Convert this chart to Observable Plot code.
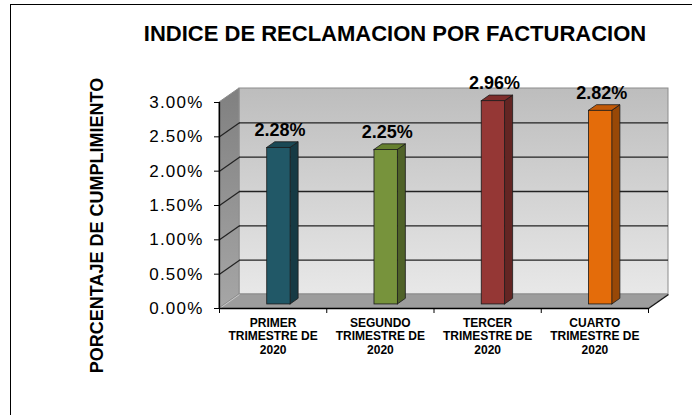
<!DOCTYPE html>
<html>
<head>
<meta charset="utf-8">
<script src="https://cdn.jsdelivr.net/npm/d3@7"></script>
<script src="https://cdn.jsdelivr.net/npm/@observablehq/plot@0.6"></script>
<style>
  html, body { margin: 0; padding: 0; overflow: hidden; background: #fff; font-family: "Liberation Sans", Arial, sans-serif; }
  #wrap { position: relative; width: 692px; height: 415px; overflow: hidden; background: #fff; }
  #border { position: absolute; left: 10px; top: 4px; width: 800px; height: 500px; border-left: 1px solid #000; border-top: 1px solid #000; }
  #title { position: absolute; left: 98px; width: 594px; top: 23px; text-align: center; font-size: 22px; line-height: 22px; font-weight: bold; color: #000; }
  #chart { position: absolute; left: 0; top: 0; }
</style>
</head>
<body>
<div id="wrap">
  <div id="border"></div>
  <div id="chart"></div>
  <div id="title">INDICE DE RECLAMACION POR FACTURACION</div>
</div>
<script>
// ---- data ----
const categorias = ["PRIMER\nTRIMESTRE DE\n2020", "SEGUNDO\nTRIMESTRE DE\n2020", "TERCER\nTRIMESTRE DE\n2020", "CUARTO\nTRIMESTRE DE\n2020"];
const valores = [2.28, 2.25, 2.96, 2.82];
const etiquetas = ["2.28%", "2.25%", "2.96%", "2.82%"];
const ticksY = [0, 0.5, 1, 1.5, 2, 2.5, 3];
const ticksYLabels = ["0.00%", "0.50%", "1.00%", "1.50%", "2.00%", "2.50%", "3.00%"];
const tituloY = "PORCENTAJE DE CUMPLIMIENTO";

// ---- styles ----
const colorFrente = ["#215867", "#77933c", "#953735", "#e46c0a"];
const colorLado   = ["#163a44", "#4f6228", "#632523", "#984807"];
const colorTope   = ["#1b4955", "#66802f", "#7e2d2b", "#c25a08"];

// 3D geometry in scale units
const DX = 20 / 107.25;   // depth along x (category units)
const DY = 14 / 68.67;    // depth along y (percent units)
const F0 = 0.29, F1 = 0.69; // bar front/back depth fractions
const W = 0.218;          // bar width (category units)
const N = categorias.length;
const YMAX = 3;

const bars = valores.map((v, i) => ({i, v, c: i + 0.5}));
const sidePts = bars.flatMap(d => [
  {i: d.i, x: d.c + W / 2 + F0 * DX, y1: F0 * DY, y2: d.v + F0 * DY},
  {i: d.i, x: d.c + W / 2 + F1 * DX, y1: F1 * DY, y2: d.v + F1 * DY}
]);
const topPts = bars.flatMap(d => [
  {i: d.i, y: d.v + F0 * DY, x1: d.c - W / 2 + F0 * DX, x2: d.c + W / 2 + F0 * DX},
  {i: d.i, y: d.v + F1 * DY, x1: d.c - W / 2 + F1 * DX, x2: d.c + W / 2 + F1 * DX}
]);
const gridInner = ticksY.filter(t => t > 0 && t < YMAX);

function defs() {
  const ns = "http://www.w3.org/2000/svg";
  const d = document.createElementNS(ns, "defs");
  const mk = (id, a, b) => {
    const g = document.createElementNS(ns, "linearGradient");
    g.setAttribute("id", id);
    g.setAttribute("x1", "0"); g.setAttribute("y1", "0");
    g.setAttribute("x2", "0"); g.setAttribute("y2", "1");
    [[0, a], [1, b]].forEach(([o, c]) => {
      const s = document.createElementNS(ns, "stop");
      s.setAttribute("offset", o);
      s.setAttribute("stop-color", c);
      g.appendChild(s);
    });
    d.appendChild(g);
  };
  mk("gBack", "#bdbdbd", "#e8e8e8");
  mk("gLeft", "#808080", "#a6a6a6");
  return d;
}

const chart = Plot.plot({
  width: 692,
  height: 415,
  marginLeft: 219,
  marginRight: 44,
  marginTop: 102,
  marginBottom: 107,
  style: {fontFamily: "'Liberation Sans', Arial, sans-serif", color: "#000", background: "transparent"},
  x: {type: "linear", domain: [0, N], axis: null},
  y: {type: "linear", domain: [0, YMAX], axis: null},
  color: {type: "identity"},
  marks: [
    defs,
    // back wall
    Plot.rect([0], {x1: DX, x2: N + DX, y1: DY, y2: YMAX + DY, fill: "url(#gBack)", stroke: "#8c8c8c", strokeWidth: 1}),
    // left wall
    Plot.areaY([{x: 0, y1: 0, y2: YMAX}, {x: DX, y1: DY, y2: YMAX + DY}], {x: "x", y1: "y1", y2: "y2", fill: "url(#gLeft)", stroke: "#8c8c8c", strokeWidth: 1}),
    // floor
    Plot.areaX([{y: 0, x1: 0, x2: N}, {y: DY, x1: DX, x2: N + DX}], {y: "y", x1: "x1", x2: "x2", fill: "#9d9d9d", stroke: "#8c8c8c", strokeWidth: 1}),
    // gridlines on back wall and left wall
    Plot.ruleY(gridInner, {y: d => d + DY, x1: DX, x2: N + DX, stroke: "#222", strokeWidth: 1.4}),
    Plot.link(gridInner, {x1: 0, y1: d => d, x2: DX, y2: d => d + DY, stroke: "#222", strokeWidth: 1.2}),
    Plot.link([0], {x1: 0, y1: 0, x2: DX, y2: DY, stroke: "#c8c8c8", strokeWidth: 1}),
    // floor right edge and front edge
    Plot.link([0], {x1: N, y1: 0, x2: N + DX, y2: DY, stroke: "#111", strokeWidth: 1.2}),
    Plot.ruleY([0], {x1: 0, x2: N, stroke: "#000", strokeWidth: 1.3}),
    Plot.ruleX([0], {y1: 0, y2: YMAX, stroke: "#000", strokeWidth: 1.3}),
    // bars
    Plot.areaY(sidePts, {x: "x", y1: "y1", y2: "y2", z: "i", fill: d => colorLado[d.i], stroke: "#1a1a1a", strokeWidth: 0.8}),
    Plot.areaX(topPts, {y: "y", x1: "x1", x2: "x2", z: "i", fill: d => colorTope[d.i], stroke: "#1a1a1a", strokeWidth: 0.8}),
    Plot.rect(bars, {x1: d => d.c - W / 2 + F0 * DX, x2: d => d.c + W / 2 + F0 * DX, y1: F0 * DY, y2: d => d.v + F0 * DY, fill: d => colorFrente[d.i], stroke: "#1a1a1a", strokeWidth: 0.8}),
    // value labels
    Plot.text(bars, {x: d => d.c + F0 * DX, y: d => d.v + F0 * DY, text: d => etiquetas[d.i], lineAnchor: "bottom", dy: -12, dx: 1, fontSize: 18, fontWeight: "bold", fill: "#000", style: "letter-spacing:1px"}),
    // category labels
    Plot.text(bars, {x: "c", y: 0, text: d => categorias[d.i], lineAnchor: "top", dy: 9, fontSize: 12, fontWeight: "bold", lineHeight: 1.11, fill: "#000"}),
    // axes
    Plot.axisX({ticks: d3.range(N + 1), tickFormat: () => "", tickSize: 5, stroke: "#000"}),
    Plot.axisY({ticks: ticksY, tickFormat: d => ticksYLabels[ticksY.indexOf(d)], tickSize: 5, tickPadding: 11, fontSize: 17, label: null}),
    // y title
    Plot.text([tituloY], {frameAnchor: "left", textAnchor: "middle", lineAnchor: "middle", rotate: -90, dx: -122, dy: 20, fontSize: 18, fontWeight: "bold", fill: "#000"})
  ]
});
// widen the axis tick labels slightly (reference text is rendered a little wide)
chart.querySelectorAll("g[aria-label='y-axis tick label'] text").forEach(t => t.setAttribute("letter-spacing", "1.2"));
document.getElementById("chart").appendChild(chart);
</script>
</body>
</html>
